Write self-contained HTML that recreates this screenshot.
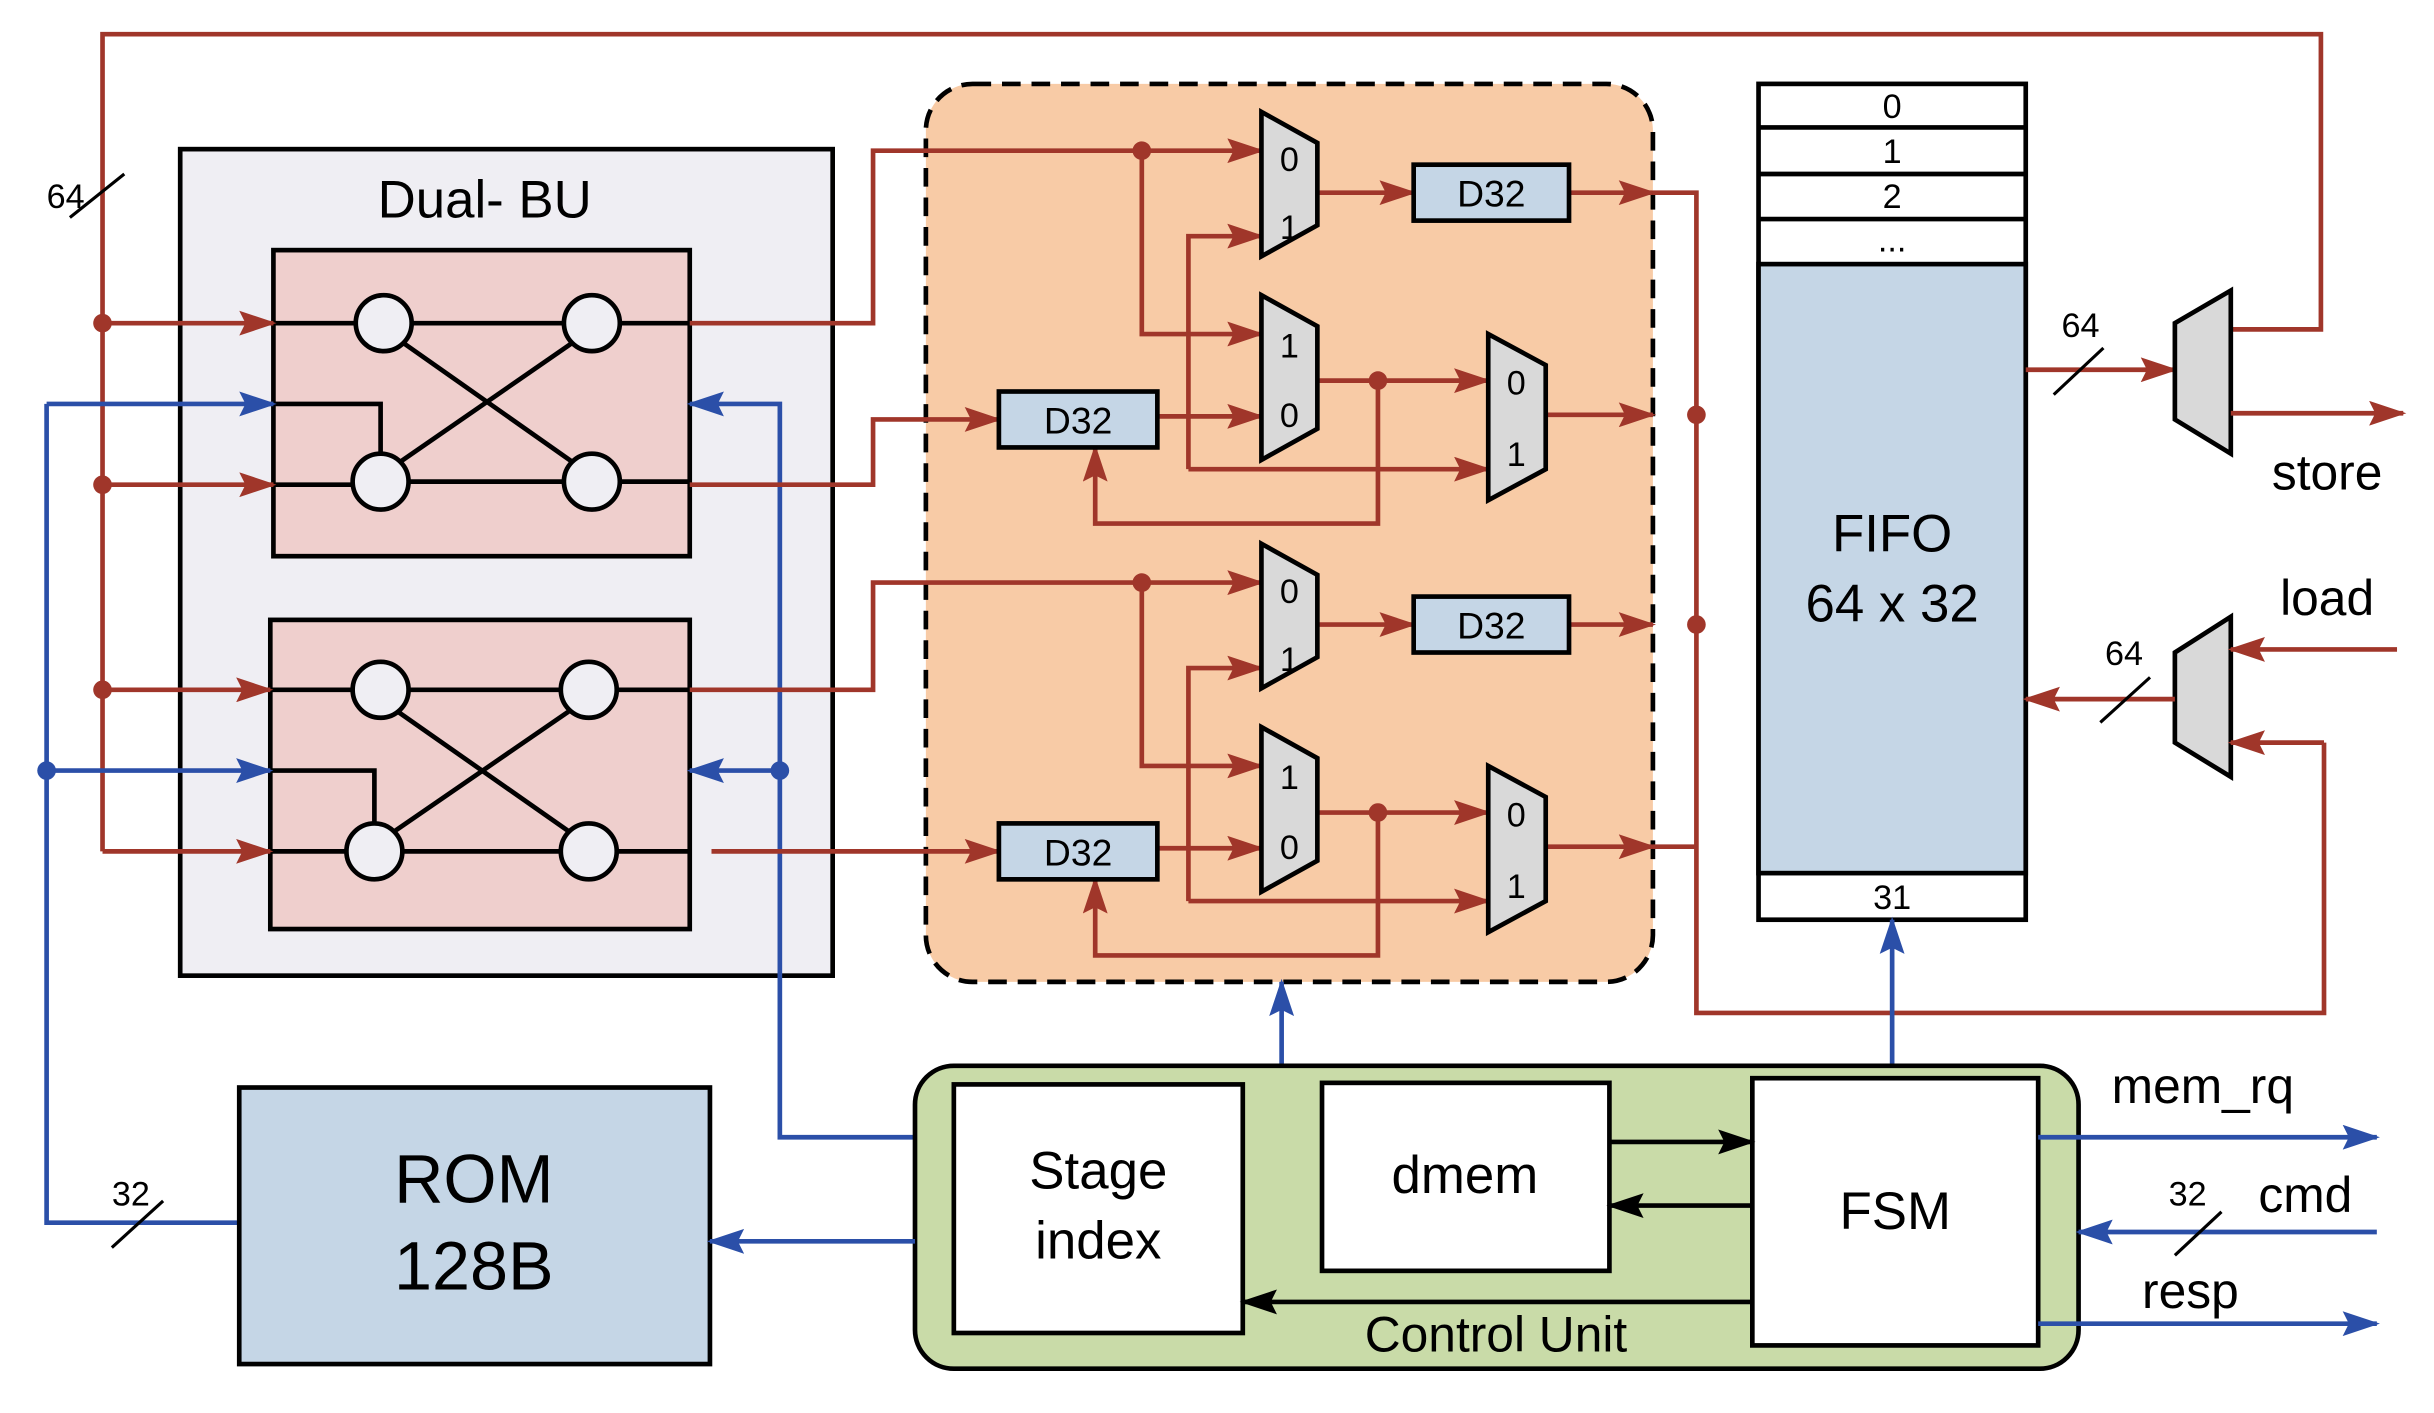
<!DOCTYPE html>
<html><head><meta charset="utf-8"><style>
html,body{margin:0;padding:0;background:#fff}
svg{display:block}
text{font-family:"Liberation Sans",sans-serif}
</style></head><body>
<svg width="2434" height="1413" viewBox="0 0 1566.8 909.5" preserveAspectRatio="none" xmlns="http://www.w3.org/2000/svg">
<defs>
<marker id="ar" markerWidth="24" markerHeight="16" refX="22" refY="8" orient="auto" markerUnits="userSpaceOnUse" viewBox="0 0 24 16"><path d="M0,0 L24,8 L0,16 L4,8 z" fill="#A0362A"/></marker>
<marker id="ab" markerWidth="24" markerHeight="16" refX="22" refY="8" orient="auto" markerUnits="userSpaceOnUse" viewBox="0 0 24 16"><path d="M0,0 L24,8 L0,16 L4,8 z" fill="#2B4FA8"/></marker>
<marker id="ak" markerWidth="24" markerHeight="16" refX="22" refY="8" orient="auto" markerUnits="userSpaceOnUse" viewBox="0 0 24 16"><path d="M0,0 L24,8 L0,16 L4,8 z" fill="#000"/></marker>
</defs>
<style>
.r{stroke:#A0362A;stroke-width:3;fill:none}
.b{stroke:#2B4FA8;stroke-width:3;fill:none}
.k{stroke:#000;stroke-width:3;fill:none}
.ra{marker-end:url(#ar)} .ba{marker-end:url(#ab)} .ka{marker-end:url(#ak)}
</style>
<rect x="116" y="96" width="420" height="532" fill="#EFEEF3" stroke="#000" stroke-width="3"/>
<text x="312" y="140" font-size="34" text-anchor="middle">Dual- BU</text>
<rect x="596" y="54" width="468" height="578" rx="30" fill="#F8CBA6" stroke="#000" stroke-width="3" stroke-dasharray="12,7"/>
<rect x="176" y="161" width="268" height="197" fill="#EFCFCD" stroke="#000" stroke-width="3"/>
<g class="k">
<line x1="176" y1="208" x2="229" y2="208"/><line x1="265" y1="208" x2="363" y2="208"/><line x1="399" y1="208" x2="444" y2="208"/>
<line x1="176" y1="312" x2="227" y2="312"/><line x1="263" y1="310" x2="363" y2="310"/><line x1="399" y1="310" x2="444" y2="310"/>
<line x1="260" y1="221" x2="368" y2="297"/><line x1="258" y1="297" x2="368" y2="221"/>
<polyline points="176,260 245,260 245,292"/>
</g>
<g fill="#EFEEF3" stroke="#000" stroke-width="3">
<circle cx="247" cy="208" r="18"/><circle cx="381" cy="208" r="18"/><circle cx="245" cy="310" r="18"/><circle cx="381" cy="310" r="18"/>
</g>
<rect x="174" y="399" width="270" height="199" fill="#EFCFCD" stroke="#000" stroke-width="3"/>
<g class="k">
<line x1="174" y1="444" x2="227" y2="444"/><line x1="263" y1="444" x2="361" y2="444"/><line x1="397" y1="444" x2="444" y2="444"/>
<line x1="174" y1="548" x2="223" y2="548"/><line x1="259" y1="548" x2="361" y2="548"/><line x1="397" y1="548" x2="444" y2="548"/>
<line x1="256" y1="458" x2="366" y2="535"/><line x1="254" y1="535" x2="366" y2="458"/>
<polyline points="174,496 241,496 241,530"/>
</g>
<g fill="#EFEEF3" stroke="#000" stroke-width="3">
<circle cx="245" cy="444" r="18"/><circle cx="379" cy="444" r="18"/><circle cx="241" cy="548" r="18"/><circle cx="379" cy="548" r="18"/>
</g>
<polyline class="r" points="66,548 66,22 1494,22 1494,212 1436,212"/>
<line x1="45" y1="140" x2="80" y2="112" stroke="#000" stroke-width="2"/>
<text x="30" y="134" font-size="22">64</text>
<g class="r ra">
<line x1="66" y1="208" x2="176" y2="208"/><line x1="66" y1="312" x2="176" y2="312"/>
<line x1="66" y1="444" x2="174" y2="444"/><line x1="66" y1="548" x2="174" y2="548"/>
</g>
<g fill="#A0362A"><circle cx="66" cy="208" r="6"/><circle cx="66" cy="312" r="6"/><circle cx="66" cy="444" r="6"/></g>
<polyline class="b" points="30,260 30,787 155,787"/>
<g class="b ba"><line x1="30" y1="260" x2="176" y2="260"/><line x1="30" y1="496" x2="174" y2="496"/></g>
<polyline class="b ba" points="590,732 502,732 502,260 444,260"/>
<line class="b ba" x1="502" y1="496" x2="444" y2="496"/>
<g fill="#2B4FA8"><circle cx="30" cy="496" r="6"/><circle cx="502" cy="496" r="6"/></g>
<line x1="72" y1="803" x2="105" y2="773" stroke="#000" stroke-width="2"/>
<text x="72" y="776" font-size="22">32</text>
<polyline class="r ra" points="444,208 562,208 562,97 812,97"/>
<polyline class="r ra" points="444,312 562,312 562,270 643,270"/>
<polyline class="r ra" points="444,444 562,444 562,375 812,375"/>
<polyline class="r ra" points="458,548 643,548"/>
<g id="blk">
<polyline class="r ra" points="735,97 735,215 812,215"/>
<polyline class="r ra" points="765,302 765,152 812,152"/>
<line class="r ra" x1="765" y1="302" x2="958" y2="302"/>
<line class="r ra" x1="745" y1="268" x2="812" y2="268"/>
<line class="r ra" x1="848" y1="124" x2="910" y2="124"/>
<line class="r ra" x1="848" y1="245" x2="958" y2="245"/>
<polyline class="r ra" points="887,245 887,337 705,337 705,288"/>
<line class="r ra" x1="995" y1="267" x2="1064" y2="267"/>
<line class="r ra" x1="1010" y1="124" x2="1064" y2="124"/>
<circle cx="735" cy="97" r="6" fill="#A0362A"/><circle cx="887" cy="245" r="6" fill="#A0362A"/>
<rect x="643" y="252" width="102" height="36" fill="#C5D6E6" stroke="#000" stroke-width="3"/>
<text x="694" y="279" font-size="24" text-anchor="middle">D32</text>
<rect x="910" y="106" width="100" height="36" fill="#C5D6E6" stroke="#000" stroke-width="3"/>
<text x="960" y="133" font-size="24" text-anchor="middle">D32</text>
<polygon points="812,72 848,92 848,145 812,165" fill="#D9D9D9" stroke="#000" stroke-width="3"/>
<text x="830" y="110" font-size="22" text-anchor="middle">0</text><text x="830" y="154" font-size="22" text-anchor="middle">1</text>
<polygon points="812,190 848,210 848,276 812,296" fill="#D9D9D9" stroke="#000" stroke-width="3"/>
<text x="830" y="230" font-size="22" text-anchor="middle">1</text><text x="830" y="275" font-size="22" text-anchor="middle">0</text>
<polygon points="958,215 995,235 995,302 958,322" fill="#D9D9D9" stroke="#000" stroke-width="3"/>
<text x="976" y="254" font-size="22" text-anchor="middle">0</text><text x="976" y="300" font-size="22" text-anchor="middle">1</text>
</g>
<use href="#blk" transform="translate(0,278)"/>
<polyline class="r" points="1064,124 1092,124 1092,652 1496,652 1496,478"/>
<line class="r" x1="1064" y1="545" x2="1092" y2="545"/>
<g fill="#A0362A"><circle cx="1092" cy="267" r="6"/><circle cx="1092" cy="402" r="6"/></g>
<line class="b ba" x1="825" y1="686" x2="825" y2="632"/>
<rect x="1132" y="54" width="172" height="538" fill="#fff" stroke="#000" stroke-width="3"/>
<rect x="1132" y="170" width="172" height="392" fill="#C5D6E6" stroke="#000" stroke-width="3"/>
<g stroke="#000" stroke-width="3"><line x1="1132" y1="82" x2="1304" y2="82"/><line x1="1132" y1="112" x2="1304" y2="112"/><line x1="1132" y1="141" x2="1304" y2="141"/></g>
<g font-size="22" text-anchor="middle"><text x="1218" y="76">0</text><text x="1218" y="105">1</text><text x="1218" y="134">2</text><text x="1218" y="162">...</text><text x="1218" y="585">31</text></g>
<text x="1218" y="355" font-size="34" text-anchor="middle">FIFO</text>
<text x="1218" y="400" font-size="34" text-anchor="middle">64 x 32</text>
<line class="r ra" x1="1304" y1="238" x2="1400" y2="238"/>
<line x1="1322" y1="254" x2="1354" y2="224" stroke="#000" stroke-width="2"/>
<text x="1327" y="217" font-size="22">64</text>
<polygon points="1400,208 1436,187 1436,292 1400,270" fill="#D9D9D9" stroke="#000" stroke-width="3"/>
<line class="r ra" x1="1436" y1="266" x2="1547" y2="266"/>
<text x="1498" y="315" font-size="32" text-anchor="middle">store</text>
<polygon points="1400,420 1436,397 1436,500 1400,478" fill="#D9D9D9" stroke="#000" stroke-width="3"/>
<line class="r ra" x1="1543" y1="418" x2="1436" y2="418"/>
<line class="r ra" x1="1496" y1="478" x2="1436" y2="478"/>
<line class="r ra" x1="1400" y1="450" x2="1304" y2="450"/>
<line x1="1352" y1="465" x2="1384" y2="436" stroke="#000" stroke-width="2"/>
<text x="1355" y="428" font-size="22">64</text>
<text x="1498" y="396" font-size="32" text-anchor="middle">load</text>
<line class="b ba" x1="1218" y1="686" x2="1218" y2="592"/>
<rect x="589" y="686" width="749" height="195" rx="25" fill="#C9DBA8" stroke="#000" stroke-width="3"/>
<rect x="614" y="698" width="186" height="160" fill="#fff" stroke="#000" stroke-width="3"/>
<text x="707" y="765" font-size="34" text-anchor="middle">Stage</text>
<text x="707" y="810" font-size="34" text-anchor="middle">index</text>
<rect x="851" y="697" width="185" height="121" fill="#fff" stroke="#000" stroke-width="3"/>
<text x="943" y="768" font-size="34" text-anchor="middle">dmem</text>
<rect x="1128" y="694" width="184" height="172" fill="#fff" stroke="#000" stroke-width="3"/>
<text x="1220" y="791" font-size="34" text-anchor="middle">FSM</text>
<text x="963" y="870" font-size="32" text-anchor="middle">Control Unit</text>
<line class="k ka" x1="1036" y1="735" x2="1128" y2="735"/>
<line class="k ka" x1="1128" y1="776" x2="1036" y2="776"/>
<line class="k ka" x1="1128" y1="838" x2="800" y2="838"/>
<rect x="154" y="700" width="303" height="178" fill="#C5D6E6" stroke="#000" stroke-width="3"/>
<text x="305" y="774" font-size="44" text-anchor="middle">ROM</text>
<text x="305" y="830" font-size="44" text-anchor="middle">128B</text>
<line class="b ba" x1="589" y1="799" x2="457" y2="799"/>
<line class="b ba" x1="1312" y1="732" x2="1530" y2="732"/>
<line class="b ba" x1="1530" y1="793" x2="1338" y2="793"/>
<line class="b ba" x1="1312" y1="852" x2="1530" y2="852"/>
<text x="1418" y="710" font-size="32" text-anchor="middle">mem_rq</text>
<text x="1484" y="780" font-size="32" text-anchor="middle">cmd</text>
<text x="1410" y="842" font-size="32" text-anchor="middle">resp</text>
<line x1="1400" y1="808" x2="1430" y2="780" stroke="#000" stroke-width="2"/>
<text x="1396" y="776" font-size="22">32</text>
</svg>
</body></html>
